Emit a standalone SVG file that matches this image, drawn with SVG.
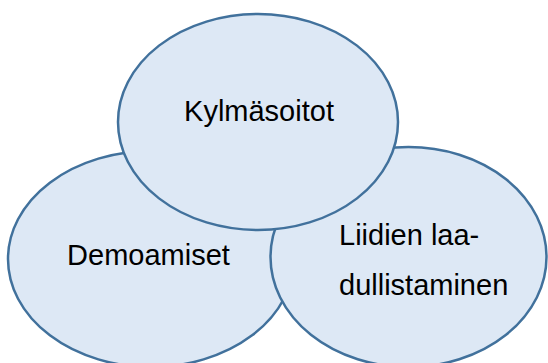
<svg xmlns="http://www.w3.org/2000/svg" width="548" height="363" viewBox="0 0 548 363">
  <style>
    .bubble { fill: #dde8f5; stroke: #41719c; stroke-width: 2.5; }
    .label { font-family: "Liberation Sans", Arial, sans-serif; font-size: 29px; fill: #000; }
  </style>
  <rect width="548" height="363" fill="#ffffff"/>
  <g id="demoamiset">
    <ellipse class="bubble" cx="151" cy="259" rx="143" ry="108"/>
    <text class="label" x="148.5" y="265" text-anchor="middle">Demoamiset</text>
  </g>
  <g id="liidien-laadullistaminen">
    <ellipse class="bubble" cx="408.5" cy="257" rx="138" ry="110"/>
    <text class="label" x="339" y="245">Liidien laa-</text>
    <text class="label" x="339" y="295">dullistaminen</text>
  </g>
  <g id="kylmasoitot">
    <ellipse class="bubble" cx="258" cy="122" rx="140" ry="108"/>
    <text class="label" x="259" y="121" text-anchor="middle">Kylmäsoitot</text>
  </g>
  <g id="connectors"/>
</svg>
